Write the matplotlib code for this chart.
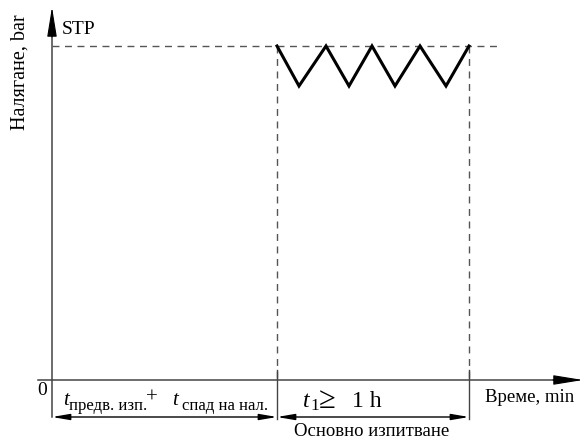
import matplotlib
matplotlib.use("Agg")
import matplotlib.pyplot as plt

plt.rcParams['font.family'] = ['Liberation Serif', 'DejaVu Serif']

# ---- data (time units ~ px offsets from origin, pressure units) ----
stp = 334
zig_t = [225, 247, 274, 297, 320, 343, 368, 394, 417]
zig_p = [334, 294, 334, 294, 334, 294, 334, 294, 334]
t_pre_end = 225
t1_end = 417
stp_line_end = 448
x_axis_start, x_axis_tip = -14, 531
y_axis_bottom, y_axis_tip = -37, 373
dim_y = -37

fig = plt.figure(figsize=(5.83, 4.39), dpi=100)
ax = fig.add_axes([0, 0, 1, 1])
ax.set_xlim(-52, 531)
ax.set_ylim(-58, 381)
ax.axis('off')

axis_col = '#444444'
dash_col = '#555555'

# axes lines (grey) with black arrowheads
ax.plot([x_axis_start, x_axis_tip - 20], [0, 0], color=axis_col, lw=1.1)
ax.plot([0, 0], [y_axis_bottom, y_axis_tip - 20], color=axis_col, lw=1.1)
head = dict(arrowstyle='-|>,head_length=1.85,head_width=0.3',
            color='black', lw=0.8, shrinkA=0, shrinkB=0)
ax.annotate('', xy=(x_axis_tip, 0), xytext=(x_axis_tip - 30, 0), arrowprops=head)
ax.annotate('', xy=(0, y_axis_tip), xytext=(0, y_axis_tip - 30), arrowprops=head)

# STP dashed line
ax.plot([0, stp_line_end], [stp, stp], ls=(0, (5, 4)), color=dash_col, lw=1.0)
# vertical dashed lines
for xv in (t_pre_end, t1_end):
    ax.plot([xv, xv], [stp, 0], ls=(0, (5, 4)), color=dash_col, lw=1.0)
    ax.plot([xv, xv], [10, dim_y - 2], color=axis_col, lw=1.0)

# zigzag
ax.plot(zig_t, zig_p, color='black', lw=2.2, solid_joinstyle='miter')

# dimension arrows
for a, b in ((0, t_pre_end), (t_pre_end, t1_end)):
    ax.annotate('', xy=(b, dim_y), xytext=(a, dim_y),
                arrowprops=dict(arrowstyle='<|-|>,head_length=1.05,head_width=0.18',
                                color='black', lw=1.0, shrinkA=0, shrinkB=0))

# texts
ax.text(10, 347, 'STP', fontsize=14, ha='left', va='baseline')
ax.text(-32, 309, 'Налягане, bar', fontsize=14.5, rotation=90, ha='center', va='center')
ax.text(-10, -10, '0', fontsize=14, ha='center', va='center')
ax.text(478, -21, 'Време, min', fontsize=13.5, ha='center', va='baseline')
ax.text(320, -55, 'Основно изпитване', fontsize=13.5, ha='center', va='baseline')

# t_pre + t_drop
ax.text(11, -24, 't', fontsize=15, style='italic', ha='left', va='baseline')
ax.text(17, -29, 'предв. изп.', fontsize=12, ha='left', va='baseline')
ax.text(100, -22, '+', fontsize=15, ha='center', va='baseline')
ax.text(120, -24, 't', fontsize=15, style='italic', ha='left', va='baseline')
ax.text(130, -29, 'спад на нал.', fontsize=12, ha='left', va='baseline')

# t1 >= 1 h
ax.text(251, -26, 't', fontsize=17, style='italic', ha='left', va='baseline')
ax.text(258, -29, '1', fontsize=12.5, ha='left', va='baseline')
ax.text(267, -27, '≥', fontsize=22, ha='left', va='baseline')
ax.text(300, -26, '1 h', fontsize=17, ha='left', va='baseline')

fig.savefig('out.png', dpi=100)
